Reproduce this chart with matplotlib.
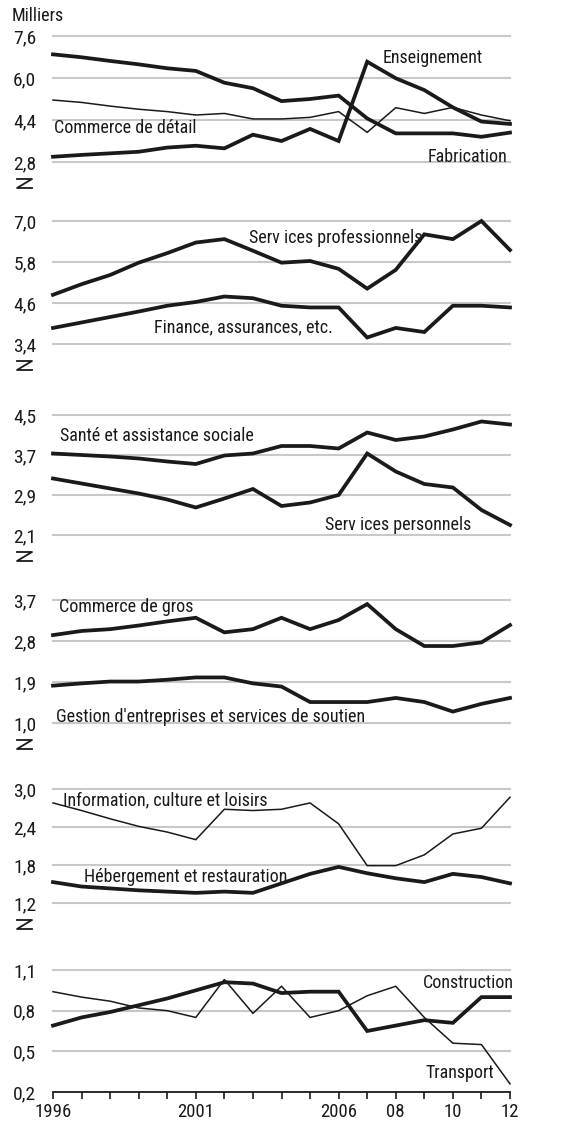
import matplotlib
matplotlib.use("Agg")
import matplotlib.pyplot as plt
from matplotlib.lines import Line2D
from matplotlib import font_manager

names = {f.name for f in font_manager.fontManager.ttflist}
narrow = [n for n in ["Liberation Sans Narrow", "Arial Narrow", "Roboto Condensed", "Open Sans Condensed"] if n in names]
narrow += sorted(n for n in names if ("Narrow" in n or "Condensed" in n) and n not in narrow and "DejaVu" not in n)
if narrow:
    FAM = [narrow[0], "DejaVu Sans"]
    FS, FS_Y, FS_X = 13, 14, 13.5
else:
    FAM = [n for n in ["Liberation Sans", "DejaVu Sans"] if n in names]
    FS, FS_Y, FS_X = 12, 13, 12
plt.rcParams['font.family'] = FAM

years = list(range(1996, 2013))

enseignement = [3.00, 3.07, 3.13, 3.19, 3.35, 3.42, 3.32, 3.84, 3.60, 4.06, 3.60, 6.62, 5.99, 5.54, 4.88, 4.34, 4.25]
fabrication = [6.90, 6.79, 6.65, 6.52, 6.37, 6.27, 5.82, 5.61, 5.12, 5.20, 5.33, 4.46, 3.89, 3.89, 3.89, 3.76, 3.92]
commerce_detail = [5.16, 5.07, 4.93, 4.81, 4.72, 4.59, 4.65, 4.44, 4.44, 4.50, 4.72, 3.93, 4.87, 4.65, 4.88, 4.59, 4.37]

services_prof = [4.84, 5.15, 5.42, 5.78, 6.06, 6.37, 6.47, 6.13, 5.78, 5.83, 5.60, 5.02, 5.57, 6.61, 6.47, 7.00, 6.15]
finance = [3.87, 4.03, 4.19, 4.35, 4.52, 4.63, 4.79, 4.74, 4.52, 4.47, 4.47, 3.59, 3.87, 3.75, 4.52, 4.52, 4.47]

sante = [3.73, 3.70, 3.67, 3.63, 3.57, 3.52, 3.69, 3.73, 3.88, 3.88, 3.83, 4.15, 4.00, 4.07, 4.21, 4.37, 4.31]
services_pers = [3.23, 3.13, 3.03, 2.93, 2.81, 2.65, 2.83, 3.02, 2.68, 2.75, 2.90, 3.73, 3.37, 3.12, 3.05, 2.60, 2.30]

commerce_gros = [2.93, 3.02, 3.06, 3.14, 3.23, 3.31, 2.99, 3.06, 3.31, 3.06, 3.26, 3.61, 3.06, 2.69, 2.69, 2.77, 3.15]
gestion = [1.82, 1.87, 1.91, 1.91, 1.95, 2.00, 2.00, 1.87, 1.80, 1.46, 1.46, 1.46, 1.55, 1.46, 1.25, 1.42, 1.55]

information = [2.78, 2.66, 2.53, 2.41, 2.32, 2.20, 2.68, 2.66, 2.68, 2.78, 2.45, 1.79, 1.79, 1.96, 2.29, 2.38, 2.87]
hebergement = [1.53, 1.46, 1.43, 1.40, 1.38, 1.36, 1.38, 1.36, 1.51, 1.66, 1.77, 1.67, 1.59, 1.53, 1.66, 1.61, 1.51]

construction = [0.69, 0.75, 0.79, 0.84, 0.89, 0.95, 1.01, 1.00, 0.93, 0.94, 0.94, 0.65, 0.69, 0.73, 0.71, 0.90, 0.90]
transport = [0.94, 0.90, 0.87, 0.82, 0.80, 0.75, 1.03, 0.78, 0.98, 0.75, 0.80, 0.91, 0.98, 0.75, 0.56, 0.55, 0.26]

yticks = [
    [2.8, 4.4, 6.0, 7.6],
    [3.4, 4.6, 5.8, 7.0],
    [2.1, 2.9, 3.7, 4.5],
    [1.0, 1.9, 2.8, 3.7],
    [1.2, 1.8, 2.4, 3.0],
    [0.2, 0.5, 0.8, 1.1],
]
xtick_labels = {1996: "1996", 2001: "2001", 2006: "2006", 2008: "08", 2010: "10", 2012: "12"}

THICK, THIN = 2.7, 1.1
panels = [
    [(fabrication, THICK), (enseignement, THICK), (commerce_detail, THIN)],
    [(services_prof, THICK), (finance, THICK)],
    [(sante, THICK), (services_pers, THICK)],
    [(commerce_gros, THICK), (gestion, THICK)],
    [(information, THIN), (hebergement, THICK)],
    [(transport, THIN), (construction, THICK)],
]
# pixel positions (top, bottom) of each panel
W, H = 563, 1123
pix = [(36, 162), (221, 344), (415, 535), (600, 723), (789, 903), (970, 1092)]
left_px, right_px = 53, 510

fig = plt.figure(figsize=(W / 100, H / 100), dpi=100)
grid_c = "#c8c8c8"
ink = "#1a1a1a"

for i, (series, ticks, (t, b)) in enumerate(zip(panels, yticks, pix)):
    ax = fig.add_axes([left_px / W, 1 - b / H, (right_px - left_px) / W, (b - t) / H])
    ax.set_xlim(1996, 2012)
    ax.set_ylim(ticks[0], ticks[-1])
    for s in ax.spines.values():
        s.set_visible(False)
    for v in ticks:
        if i == 5 and v == ticks[0]:
            continue
        ax.axhline(v, color=grid_c, lw=1.5, zorder=0, clip_on=False)
    for vals, lw in series:
        ax.plot(years, vals, color=ink, lw=lw, solid_joinstyle="miter", clip_on=False, zorder=3)
    ax.set_yticks(ticks)
    ax.set_yticklabels([f"{v:.1f}".replace(".", ",") for v in ticks], fontsize=FS_Y, color=ink)
    ax.tick_params(axis="y", length=0, pad=12)
    if i == 5:
        ax.spines["bottom"].set_visible(True)
        ax.spines["bottom"].set_color(ink)
        ax.spines["bottom"].set_linewidth(1.3)
        ax.set_xticks(years)
        ax.set_xticklabels([xtick_labels.get(y, "") for y in years], fontsize=FS_X, color=ink)
        ax.tick_params(axis="x", direction="out", length=5, width=1.2, color=ink, pad=3)
    else:
        ax.set_xticks([])
    # axis break symbol below the lowest tick label
    zy = b + 21
    xs = [17 / W, 32 / W, 17 / W, 32 / W]
    ys = [1 - (zy - 4) / H, 1 - (zy - 4) / H, 1 - (zy + 5) / H, 1 - (zy + 5) / H]
    if i < 5:
        fig.add_artist(Line2D(xs, ys, color=ink, lw=1.3, transform=fig.transFigure))

fig.text(12 / W, 1 - 16 / H, "Milliers", fontsize=FS, va="center", ha="left", color=ink)

labels = [
    ("Enseignement", 383, 58),
    ("Commerce de détail", 54, 128),
    ("Fabrication", 428, 157),
    ("Serv ices professionnels", 249, 238),
    ("Finance, assurances, etc.", 154, 327),
    ("Santé et assistance sociale", 60, 436),
    ("Serv ices personnels", 325, 525),
    ("Commerce de gros", 59, 607),
    ("Gestion d'entreprises et services de soutien", 56, 717),
    ("Information, culture et loisirs", 63, 800),
    ("Hébergement et restauration", 84, 877),
    ("Construction", 423, 983),
    ("Transport", 425, 1073),
]
for txt, x, y in labels:
    fig.text(x / W, 1 - y / H, txt, fontsize=FS, va="center", ha="left", color=ink)

fig.savefig("out.png", dpi=100)
